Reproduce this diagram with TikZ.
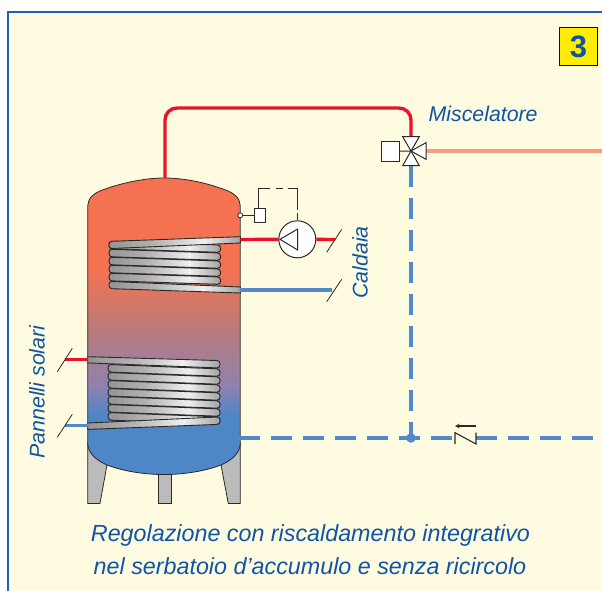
\documentclass[tikz,border=0pt]{standalone}
\usepackage{fontspec}
\setmainfont{Liberation Sans}
\usepackage{xcolor}
\definecolor{panelcream}{HTML}{FFFBE0}
\definecolor{panelblue}{HTML}{1F62B4}
\definecolor{labelblue}{HTML}{0F55A5}
\definecolor{pipered}{HTML}{E8132B}
\definecolor{pipeblue}{HTML}{5389C6}
\definecolor{pipesalmon}{HTML}{F99B80}
\definecolor{tanktopcol}{HTML}{F47252}
\definecolor{tankmidcol}{HTML}{BC7A78}
\definecolor{tanklowcol}{HTML}{8F82AE}
\definecolor{tankbotcol}{HTML}{4F86C6}
\definecolor{legcol}{HTML}{BBBBBB}
\definecolor{linecol}{HTML}{2A2A2A}
\pgfdeclareverticalshading{tankshade}{100bp}{color(0bp)=(tankbotcol); color(35bp)=(tankbotcol); color(40bp)=(tanklowcol); color(50bp)=(tankmidcol); color(59.5bp)=(tanktopcol); color(100bp)=(tanktopcol)}
\pgfdeclarehorizontalshading{coilshade}{100bp}{color(0bp)=(black!42); color(25bp)=(black!42); color(42bp)=(black!30); color(61bp)=(black!6); color(75bp)=(black!36); color(100bp)=(black!36)}
\tikzstyle{tube} = [draw=linecol, line width=1pt, shading=coilshade, rounded corners=3pt]
\tikzstyle{band} = [draw=linecol, line width=0.9pt, shading=coilshade]
\tikzstyle{leg} = [draw=linecol, line width=0.8pt, fill=legcol]
\tikzstyle{redpipe} = [line width=3.4pt, draw=pipered]
\tikzstyle{bluepipe} = [line width=3.2pt, draw=pipeblue]
\tikzstyle{dashpipe} = [line width=3.2pt, draw=pipeblue, dash pattern=on 21.3pt off 10.7pt]
\tikzstyle{thinline} = [line width=0.8pt, draw=linecol]
\tikzstyle{whitebox} = [rectangle, draw=linecol, line width=0.9pt, fill=white, inner sep=0pt]
\tikzstyle{valvepart} = [draw=linecol, line width=1pt, fill=white]
\tikzstyle{label} = [text=labelblue, font=\fontsize{21.3}{21.3}\selectfont\itshape, inner sep=0pt]
\tikzstyle{caption} = [text=labelblue, font=\fontsize{23.3}{23.3}\selectfont\itshape, inner sep=0pt]

\begin{document}
\begin{tikzpicture}[x=1pt,y=-1pt]
    \useasboundingbox (0,0) rectangle (602,591);
    \fill[white] (0,0) rectangle (602,591);
    \fill[panelcream] (8,12) rectangle (602,591);
    \draw[panelblue, line width=1.3pt] (8,591) -- (8,12) -- (602,12);

    % legs
    \draw[leg] (87.7,443) -- (87.7,503.5) -- (100,503.5) -- (107,465) -- cycle;
    \draw[leg] (158.3,472) -- (171.7,472) -- (171.7,503.5) -- (158.3,503.5) -- cycle;
    \draw[leg] (240.3,443) -- (240.3,503.5) -- (228.3,503.5) -- (221,465) -- cycle;

    % tank
    \draw[draw=linecol, line width=0.8pt, shading=tankshade]
        (87.7,443) -- (87.7,208) .. controls (87.7,198) and (93,194) .. (100,191)
        .. controls (120,183) and (145,178) .. (164,178)
        .. controls (185,178) and (208,183) .. (228,191)
        .. controls (235,194) and (240.3,198) .. (240.3,208) -- (240.3,443)
        .. controls (240.3,453) and (232,460) .. (221,465)
        .. controls (205,471) and (185,474.5) .. (164,474.5)
        .. controls (143,474.5) and (123,471) .. (107,465)
        .. controls (96,460) and (87.7,453) .. (87.7,443) -- cycle;

    % upper coil
    \foreach \y in {245,253,261,269,277} {
        \draw[tube] (109,\y-3.8) -- (220.5,\y) -- (220.5,\y+7.4) -- (109,\y+3.8) -- cycle;
    }
    \draw[band] (240.3,236.7) [rounded corners=3pt] -- (109,241.4) -- (109,248.6) [sharp corners] -- (240.3,243) -- cycle;
    \draw[band] (240.3,287) [rounded corners=3pt] -- (109,281.4) -- (109,288.6) [sharp corners] -- (240.3,293) -- cycle;

    % lower coil
    \foreach \y in {368.3,376.3,384.3,392.3,400.3,408.3,416.3} {
        \draw[tube] (108,\y-3.8) -- (220,\y+0.6) -- (220,\y+8) -- (108,\y+3.8) -- cycle;
    }
    \draw[band] (87.7,356.7) [rounded corners=3pt] -- (220,360.6) -- (220,368) [sharp corners] -- (87.7,362.9) -- cycle;
    \draw[band] (87.7,423) [rounded corners=3pt] -- (220,416.9) -- (220,424.3) [sharp corners] -- (87.7,429.4) -- cycle;

    % nodes
    \coordinate (tanktop) at (165,178);
    \coordinate (pipecorner) at (411,108);
    \coordinate (valvecentre) at (411,151);
    \coordinate (valvetop) at (411,137);
    \coordinate (valvebottom) at (411,165.7);
    \coordinate (valveright) at (426,151);
    \coordinate (mixedend) at (602,151);
    \coordinate (boilerhot) at (240.3,239.5);
    \coordinate (boilerhotend) at (335,239.5);
    \coordinate (boilercold) at (240.3,290);
    \coordinate (boilercoldend) at (332,290);
    \coordinate (solarhot) at (87.7,359.3);
    \coordinate (solarhotend) at (65,359.3);
    \coordinate (solarcold) at (87.7,425.3);
    \coordinate (solarcoldend) at (65,425.3);
    \coordinate (tankout) at (239,438);
    \coordinate (checkleft) at (455,438);
    \coordinate (checkright) at (476,438);
    \coordinate (returnend) at (602,438);
    \node (pump) [circle, draw=linecol, line width=1pt, fill=white, minimum size=37pt, inner sep=0pt] at (297.3,239.3) {};
    \node (actuator) [whitebox, minimum width=17.3pt, minimum height=20.6pt] at (390.3,151.3) {};
    \node (sensorbox) [whitebox, minimum width=11pt, minimum height=14pt] at (259.5,215.3) {};
    \node (sensorpoint) [circle, draw=linecol, line width=0.8pt, fill=white, minimum size=5pt, inner sep=0pt] at (240.3,215.3) {};
    \node (junction) [circle, fill=pipeblue, minimum size=9.5pt, inner sep=0pt] at (411,438) {};

    % pipes
    \draw [redpipe, rounded corners=12pt] (tanktop) |- (pipecorner) -- (valvetop);
    \draw [line width=3.4pt, draw=pipesalmon] (valveright) -- (mixedend);
    \draw [dashpipe] (valvebottom) -- (junction.center);
    \draw [dashpipe] (tankout) -- (checkleft);
    \draw [dashpipe] (checkright) -- (returnend);
    \draw [redpipe] (boilerhot) -- (pump);
    \draw [redpipe] (pump) -- (boilerhotend);
    \draw [bluepipe] (boilercold) -- (boilercoldend);
    \draw [redpipe] (solarhot) -- (solarhotend);
    \draw [bluepipe] (solarcold) -- (solarcoldend);

    % cut marks
    \draw [thinline] (326.7,252.3) -- (341.7,229.3);
    \draw [thinline] (326.7,301.7) -- (341.7,279.3);
    \draw [thinline] (57.3,371.7) -- (72.3,348.3);
    \draw [thinline] (57.3,437.3) -- (72.3,414.3);

    % pump and sensor
    \draw [valvepart, line join=miter] (297.7,229) -- (297.7,250) -- (280,239.3) -- cycle;
    \draw [thinline] (sensorpoint) -- (sensorbox);
    \draw [thinline, dash pattern=on 32pt off 6pt on 7pt off 5pt on 31pt off 3pt on 7pt] (sensorbox.north -| 258.3,0) |- (297.3,188) -- (pump.north);

    % valve
    \draw [valvepart] (402.7,136.7) -- (419.3,136.7) -- (valvecentre) -- cycle;
    \draw [valvepart] (402.7,165.7) -- (419.3,165.7) -- (valvecentre) -- cycle;
    \draw [valvepart] (426,142.7) -- (426,159.3) -- (valvecentre) -- cycle;
    \draw [thinline, line width=1pt] (actuator) -- (valvecentre);

    % check valve
    \draw [line width=1.1pt, draw=linecol] (455,444) -- (455,432.7) -- (476,444) -- (476,432.7);
    \coordinate (flowstart) at (476,426);
    \coordinate (flowend) at (455,426);
    \draw [line width=1.1pt, draw=linecol, -stealth] (flowstart) -- (flowend);

    % labels
    \node (mixerlabel) [label, anchor=west] at (428.5,114) {Miscelatore};
    \node (boilerlabel) [label, rotate=90] at (360,262.5) {Caldaia};
    \node (solarlabel) [label, rotate=90] at (37,392) {Pannelli solari};
    \node (captionone) [caption] at (310.5,535) {Regolazione con riscaldamento integrativo};
    \node (captiontwo) [caption] at (310,566) {nel serbatoio d’accumulo e senza ricircolo};

    % badge
    \node (badge) [rectangle, draw=black!70!blue, line width=1.2pt, fill=yellow!95!orange, minimum width=38.5pt, minimum height=38pt, inner sep=0pt, text=labelblue, font=\fontsize{31}{31}\selectfont\bfseries] at (578.5,46.5) {3};
\end{tikzpicture}
\end{document}
